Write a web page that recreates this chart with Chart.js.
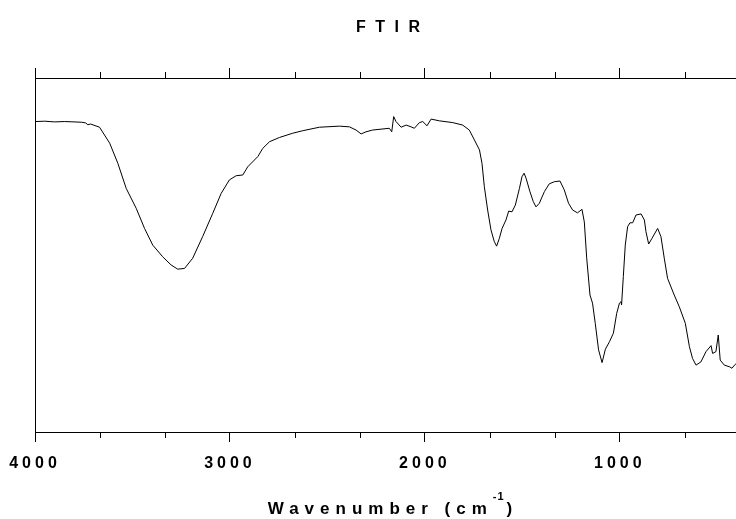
<!DOCTYPE html>
<html>
<head>
<meta charset="utf-8">
<title>FTIR</title>
<script src="https://cdn.jsdelivr.net/npm/chart.js@4.4.1/dist/chart.umd.min.js"></script>
<style>
  html, body { margin: 0; padding: 0; background: #fff; }
</style>
</head>
<body>
<canvas id="ftirChart" width="736" height="519"></canvas>
<script>
// FTIR spectrum, values (y is arbitrary transmittance)
const wavenumbers = [
  3997, 3950, 3900, 3850, 3800, 3760, 3740, 3729, 3715, 3669,
  3617, 3575, 3532, 3481, 3438, 3396, 3345, 3302, 3268, 3233,
  3191, 3140, 3088, 3045, 3003, 2968, 2934, 2909, 2857, 2832,
  2797, 2746, 2678, 2627, 2541, 2438, 2387, 2353, 2327, 2302,
  2268, 2182, 2170, 2160, 2148, 2122, 2096, 2071, 2054, 2028,
  2011, 1989, 1968, 1926, 1857, 1806, 1772, 1746, 1720, 1707,
  1695, 1678, 1661, 1644, 1632, 1618, 1604, 1584, 1570, 1553,
  1536, 1515, 1502, 1491, 1481, 1461, 1444, 1430, 1413, 1387,
  1362, 1336, 1307, 1285, 1263, 1242, 1217, 1194, 1182, 1170,
  1153, 1140, 1126, 1109, 1091, 1074, 1053, 1033, 1016, 1002,
  994, 991, 982, 972, 960, 948, 934, 917, 891, 874,
  866, 852, 835, 806, 789, 772, 755, 721, 695, 664,
  643, 627, 609, 584, 558, 532, 524, 507, 495, 485,
  464, 436, 425, 408, 404
];
const transmittance = [
  87.7, 87.8, 87.6, 87.7, 87.6, 87.5, 87.3, 86.8, 87.0, 86.1,
  81.6, 75.9, 68.8, 63.2, 57.5, 52.8, 49.5, 47.2, 46.0, 46.2,
  49.1, 55.2, 61.8, 67.4, 71.2, 72.4, 72.6, 74.9, 77.8, 80.1,
  82.0, 83.2, 84.4, 85.1, 86.1, 86.4, 86.2, 85.3, 84.2, 84.8,
  85.3, 85.8, 84.8, 89.1, 87.7, 86.1, 86.7, 86.2, 85.8, 87.4,
  87.7, 86.5, 88.4, 87.9, 87.4, 86.7, 85.3, 82.5, 79.7, 75.9,
  69.3, 62.7, 57.1, 53.8, 52.5, 54.7, 57.5, 59.9, 62.4, 62.2,
  64.1, 68.8, 72.1, 73.1, 71.7, 67.9, 65.1, 63.6, 64.6, 67.9,
  70.1, 70.7, 70.9, 68.4, 64.6, 62.7, 61.9, 62.9, 59.3, 49.2,
  38.7, 36.4, 30.7, 23.2, 19.6, 23.4, 25.5, 27.9, 33.5, 36.4,
  36.8, 35.9, 43.9, 52.8, 58.0, 59.1, 59.1, 61.3, 61.6, 59.9,
  56.6, 53.1, 54.7, 57.5, 55.2, 49.1, 43.4, 38.7, 35.4, 30.7,
  24.1, 20.8, 18.9, 19.8, 22.7, 24.4, 22.2, 22.7, 27.4, 20.3,
  18.9, 18.4, 18.0, 19.1, 19.3
];
const majorTicks = [1000, 2000, 3000, 4000];
const minorTicks = [3666.7, 3333.3, 2666.7, 2333.3, 1666.7, 1333.3, 666.7];
const xRange = [404, 4000];
const chartTitle = 'FTIR';
const axisTitle = ['Wavenumber (cm', '-1', ')'];

const FONT = "'Liberation Sans', Arial, sans-serif";

const spectrum = wavenumbers.map((wn, i) => ({ x: wn, y: transmittance[i] }));

// chart.js can't do per-tick lengths, letter spacing or a superscript title, so do those here
const ftirDecor = {
  id: 'ftirDecor',
  beforeDraw(chart) {
    chart.ctx.letterSpacing = '4px';
  },
  afterDraw(chart) {
    const { ctx, chartArea, scales } = chart;
    ctx.save();
    ctx.strokeStyle = '#000';
    ctx.lineWidth = 1;
    ctx.beginPath();
    minorTicks.forEach(v => {
      const px = Math.round(scales.x.getPixelForValue(v)) + 0.5;
      ctx.moveTo(px, chartArea.top);
      ctx.lineTo(px, chartArea.top - 6);
      ctx.moveTo(px, chartArea.bottom);
      ctx.lineTo(px, chartArea.bottom + 6);
    });
    ctx.stroke();

    ctx.fillStyle = '#000';
    ctx.textAlign = 'left';
    ctx.textBaseline = 'alphabetic';
    const mid = (chartArea.left + chartArea.right) / 2;

    // title
    ctx.font = `bold 16px ${FONT}`;
    ctx.letterSpacing = '9.5px';
    const tw = ctx.measureText(chartTitle).width - 9.5;
    ctx.fillText(chartTitle, mid + 2.5 - tw / 2, 32);

    // x axis title with superscript
    ctx.font = `bold 17px ${FONT}`;
    ctx.letterSpacing = '6px';
    const w1 = ctx.measureText(axisTitle[0]).width;
    const w3 = ctx.measureText(axisTitle[2]).width - 6;
    ctx.font = `bold 11px ${FONT}`;
    ctx.letterSpacing = '1px';
    const w2 = ctx.measureText(axisTitle[1]).width + 2;
    let x0 = mid + 4.5 - (w1 + w2 + w3) / 2;
    ctx.font = `bold 17px ${FONT}`;
    ctx.letterSpacing = '6px';
    ctx.fillText(axisTitle[0], x0, 514);
    ctx.font = `bold 11px ${FONT}`;
    ctx.letterSpacing = '1px';
    ctx.fillText(axisTitle[1], x0 + w1, 500);
    ctx.font = `bold 17px ${FONT}`;
    ctx.letterSpacing = '6px';
    ctx.fillText(axisTitle[2], x0 + w1 + w2, 514);
    ctx.restore();
    ctx.letterSpacing = '0px';
  }
};

const xAxisBase = {
  type: 'linear',
  reverse: true,
  min: xRange[0],
  max: xRange[1],
  afterBuildTicks: s => { s.ticks = majorTicks.map(v => ({ value: v })); },
  grid: { drawOnChartArea: false, drawTicks: true, tickLength: 10, color: '#000', lineWidth: 1 },
  border: { display: true, color: '#000', width: 1 }
};

const ftirConfig = {
  type: 'line',
  data: {
    datasets: [{
      data: spectrum,
      borderColor: '#000',
      borderWidth: 1,
      pointRadius: 0,
      tension: 0,
      fill: false
    }]
  },
  options: {
    responsive: false,
    animation: false,
    layout: { padding: 0 },
    scales: {
      x: {
        ...xAxisBase,
        position: 'bottom',
        afterFit: s => { s.height = 87; s.paddingLeft = 0; s.paddingRight = 0; },
        ticks: {
          color: '#000',
          font: { family: FONT, size: 16, weight: 'bold' },
          padding: 12,
          maxRotation: 0,
          autoSkip: false,
          callback: v => String(v)
        }
      },
      x2: {
        ...xAxisBase,
        position: 'top',
        afterFit: s => { s.height = 78; s.paddingLeft = 0; s.paddingRight = 0; },
        ticks: { display: false }
      },
      y: {
        min: 0,
        max: 100,
        position: 'left',
        afterFit: s => { s.width = 35; s.paddingTop = 0; s.paddingBottom = 0; },
        ticks: { display: false },
        grid: { display: false },
        border: { display: true, color: '#000', width: 1 }
      }
    },
    plugins: {
      legend: { display: false },
      title: { display: false },
      tooltip: { enabled: false }
    }
  },
  plugins: [ftirDecor]
};

const ftirChart = new Chart(document.querySelector('#ftirChart'), ftirConfig);
</script>
</body>
</html>
